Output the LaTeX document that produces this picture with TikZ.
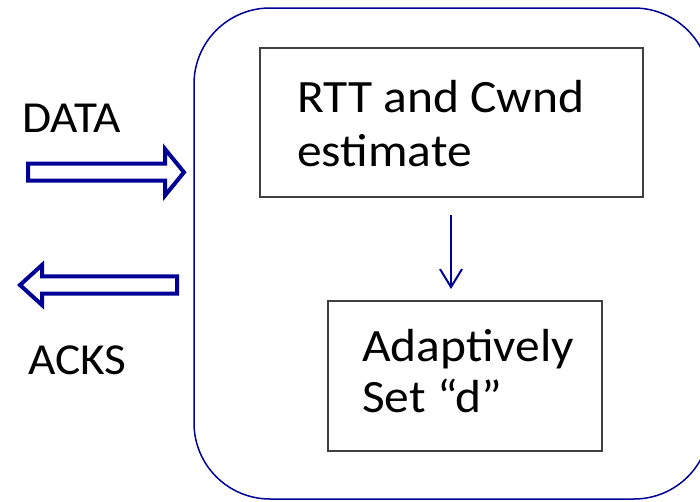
\documentclass[tikz,border=0pt]{standalone}
\usepackage{fontspec}
\setmainfont{Carlito}
\usetikzlibrary{arrows.meta}
\definecolor{navy}{RGB}{0,0,150}
\definecolor{boxgray}{RGB}{64,64,64}
\newcommand{\widetxt}[1]{\scalebox{1.1}[1.03]{#1}}
\tikzset{
  x=1pt, y=-1pt,
  outer/.style={draw=navy, line width=1.5pt, rounded corners=76pt},
  procbox/.style={draw=boxgray, line width=1.5pt, inner sep=0pt},
  bigtxt/.style={font=\fontsize{45}{54}\selectfont, anchor=base west, inner sep=0pt},
  sidetxt/.style={font=\fontsize{43}{52}\selectfont, anchor=base west, inner sep=0pt},
  blockarrow/.style={draw=navy, line width=4pt, fill=white, line join=miter},
  conn/.style={draw=navy, line width=2pt, -{Straight Barb[length=18pt, width=22pt, line width=2pt]}}
}
\begin{document}
\begin{tikzpicture}
\useasboundingbox (0,0) rectangle (700,501);
\clip (0,0) rectangle (700,501);
% outer rounded container
\draw[outer] (194,8) rectangle (710,499);
% process boxes
\node[procbox, minimum width=383pt, minimum height=149pt] (est) at (451.5,122.5) {};
\node[procbox, minimum width=274pt, minimum height=150pt] (adapt) at (465,376) {};
\node[bigtxt] (estA) at (297,112) {\widetxt{RTT and Cwnd}};
\node[bigtxt] (estB) at (297,166) {\widetxt{estimate}};
\node[bigtxt] (adA) at (362,361) {\widetxt{Adaptively}};
\node[bigtxt] (adB) at (362,412) {\widetxt{Set “d”}};
% connector
\coordinate (cs) at (451,215);
\coordinate (ce) at (451,289);
\draw[conn] (cs) -- (ce);
% side labels
\node[sidetxt] (data) at (22,132) {\widetxt{DATA}};
\node[sidetxt] (acks) at (28,374) {\widetxt{ACKS}};
% block arrows
\draw[blockarrow] (28,163.7) -- (165,163.7) -- (165,149) -- (184,172.3) -- (165,195.5) -- (165,180.7) -- (28,180.7) -- cycle;
\draw[blockarrow] (177,276.3) -- (42,276.3) -- (42,265) -- (20,285) -- (42,305) -- (42,293.7) -- (177,293.7) -- cycle;
\end{tikzpicture}
\end{document}
